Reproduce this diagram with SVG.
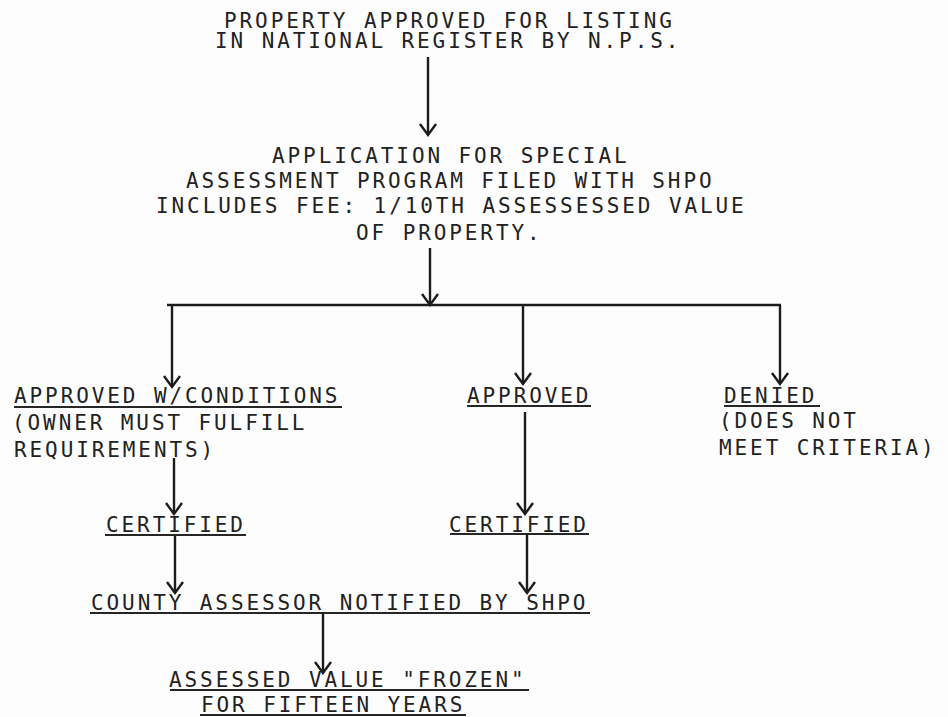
<svg xmlns="http://www.w3.org/2000/svg" width="948" height="717" viewBox="0 0 948 717">
<style>
text{font-family:"DejaVu Sans Mono","Liberation Mono",monospace;font-size:21px;letter-spacing:2.9px;fill:#222}
.c{stroke:#1c1c1c;stroke-width:2.4;fill:none}
.u{stroke:#262626;stroke-width:1.8}
</style>
<defs>
<marker id="ah" markerUnits="userSpaceOnUse" markerWidth="24" markerHeight="24" viewBox="-12 -12 24 24" refX="0" refY="0" orient="auto">
<path d="M-11,-8 L0,0 L-11,8" fill="none" stroke="#1c1c1c" stroke-width="2.4"/>
</marker>
</defs>
<rect width="948" height="717" fill="#fdfdfd"/>
<g id="connectors">
<line class="c" x1="428" y1="57" x2="428" y2="135" marker-end="url(#ah)"/>
<line class="c" x1="430" y1="248" x2="430" y2="305" marker-end="url(#ah)"/>
<line class="c" x1="167" y1="305" x2="781" y2="305"/>
<line class="c" x1="172" y1="305" x2="172" y2="387" marker-end="url(#ah)"/>
<line class="c" x1="523" y1="305" x2="523" y2="384" marker-end="url(#ah)"/>
<line class="c" x1="780" y1="305" x2="780" y2="384" marker-end="url(#ah)"/>
<line class="c" x1="174" y1="458" x2="174" y2="514" marker-end="url(#ah)"/>
<line class="c" x1="525" y1="412" x2="525" y2="514" marker-end="url(#ah)"/>
<line class="c" x1="175" y1="535" x2="175" y2="593" marker-end="url(#ah)"/>
<line class="c" x1="527" y1="534" x2="527" y2="593" marker-end="url(#ah)"/>
<line class="c" x1="323" y1="613" x2="323" y2="673" marker-end="url(#ah)"/>
</g>
<g id="n1"><text x="224" y="28">PROPERTY APPROVED FOR LISTING</text><text x="215" y="48">IN NATIONAL REGISTER BY N.P.S.</text></g>
<g id="n2"><text x="272" y="163">APPLICATION FOR SPECIAL</text><text x="186" y="188">ASSESSMENT PROGRAM FILED WITH SHPO</text><text x="156" y="213">INCLUDES FEE: 1/10TH ASSESSESSED VALUE</text><text x="356" y="240">OF PROPERTY.</text></g>
<g id="n3"><text x="14" y="403">APPROVED W/CONDITIONS</text><line class="u" x1="14" y1="407" x2="342" y2="407"/><text x="12" y="430">(OWNER MUST FULFILL</text><text x="14" y="457">REQUIREMENTS)</text></g>
<g id="n4"><text x="467" y="403">APPROVED</text><line class="u" x1="467" y1="406" x2="591" y2="406"/></g>
<g id="n5"><text x="724" y="403">DENIED</text><line class="u" x1="724" y1="406" x2="820" y2="406"/><text x="719" y="428">(DOES NOT</text><text x="719" y="455">MEET CRITERIA)</text></g>
<g id="n6"><text x="106" y="532">CERTIFIED</text><line class="u" x1="105" y1="535" x2="246" y2="535"/></g>
<g id="n7"><text x="449" y="532">CERTIFIED</text><line class="u" x1="450" y1="534" x2="589" y2="534"/></g>
<g id="n8"><text x="91" y="610">COUNTY ASSESSOR NOTIFIED BY SHPO</text><line class="u" x1="90" y1="613" x2="590" y2="613"/></g>
<g id="n9"><text x="169" y="687">ASSESSED VALUE "FROZEN"</text><line class="u" x1="170" y1="690" x2="529" y2="690"/><text x="201" y="712">FOR FIFTEEN YEARS</text><line class="u" x1="200" y1="715" x2="466" y2="715"/></g>
</svg>
